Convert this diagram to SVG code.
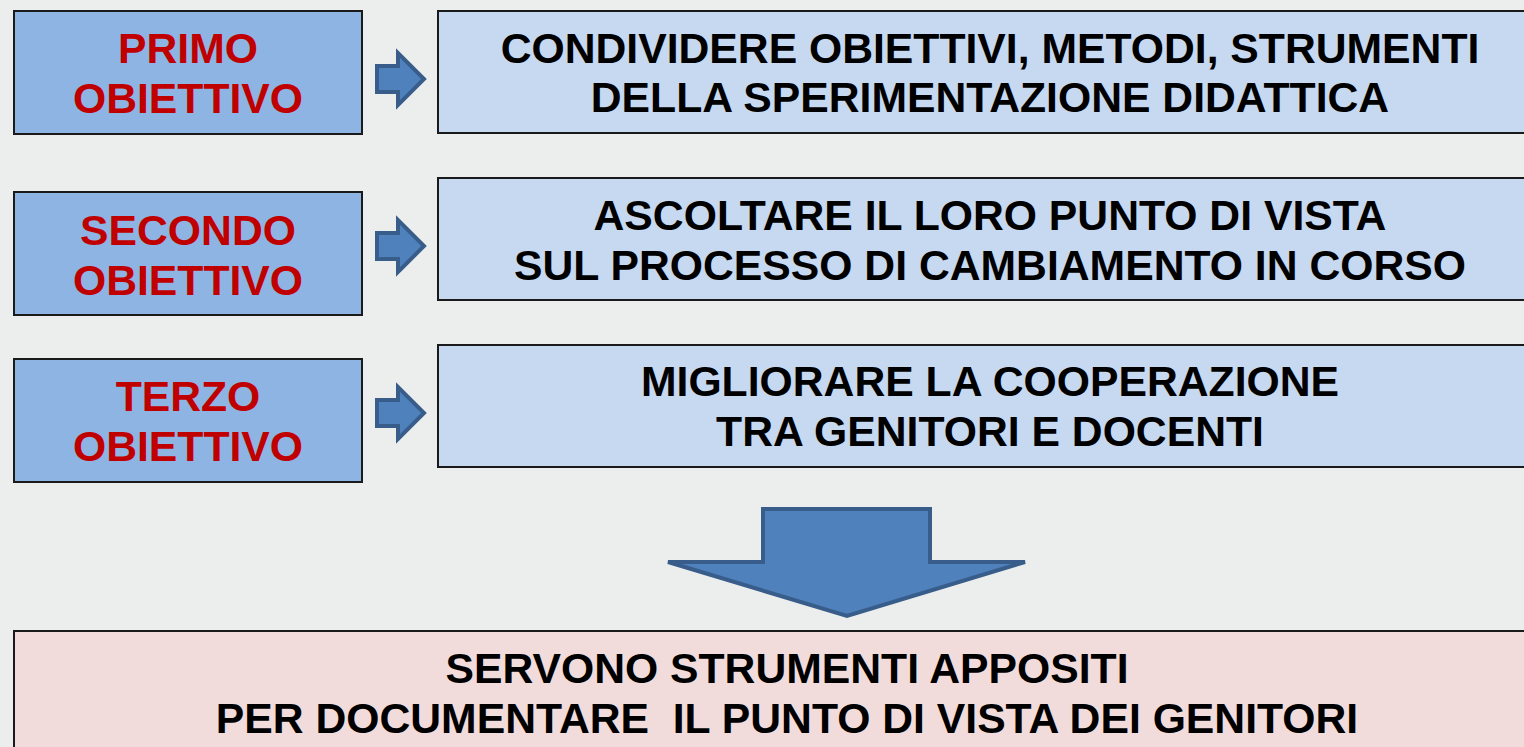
<svg xmlns="http://www.w3.org/2000/svg" width="1524" height="747" viewBox="0 0 1524 747">
<style>
.l{fill:#8EB4E3;stroke:#1a1a1a;stroke-width:2}
.r{fill:#C6D9F1;stroke:#1a1a1a;stroke-width:2}
.b{fill:#F2DCDB;stroke:#1a1a1a;stroke-width:2}
.a{fill:#4F81BD;stroke:#385D8A;stroke-width:4;stroke-linejoin:miter}
text{font-family:"Liberation Sans",Arial,sans-serif;font-weight:bold;font-size:42.7px;text-anchor:middle}
.red{fill:#C00000}
.blk{fill:#000}
</style>
<rect width="1524" height="747" fill="#ECEEED"/>
<g id="n1"><rect class="l" x="14" y="11" width="348" height="123"/><text class="red" x="188" y="63">PRIMO</text><text class="red" x="188" y="113">OBIETTIVO</text></g>
<g id="n2"><rect class="r" x="438" y="11" width="1100" height="122"/><text class="blk" x="990" y="63">CONDIVIDERE OBIETTIVI, METODI, STRUMENTI</text><text class="blk" x="990" y="112">DELLA SPERIMENTAZIONE DIDATTICA</text></g>
<g id="n3"><rect class="l" x="14" y="192" width="348" height="123"/><text class="red" x="188" y="245">SECONDO</text><text class="red" x="188" y="295">OBIETTIVO</text></g>
<g id="n4"><rect class="r" x="438" y="178" width="1100" height="122"/><text class="blk" x="990" y="230">ASCOLTARE IL LORO PUNTO DI VISTA</text><text class="blk" x="990" y="280">SUL PROCESSO DI CAMBIAMENTO IN CORSO</text></g>
<g id="n5"><rect class="l" x="14" y="359" width="348" height="123"/><text class="red" x="188" y="411">TERZO</text><text class="red" x="188" y="461">OBIETTIVO</text></g>
<g id="n6"><rect class="r" x="438" y="345" width="1100" height="122"/><text class="blk" x="990" y="396">MIGLIORARE LA COOPERAZIONE</text><text class="blk" x="990" y="446">TRA GENITORI E DOCENTI</text></g>
<g id="n7"><rect class="b" x="14" y="631" width="1530" height="130"/><text class="blk" x="787" y="683">SERVONO STRUMENTI APPOSITI</text><text class="blk" x="787" y="733" xml:space="preserve">PER DOCUMENTARE  IL PUNTO DI VISTA DEI GENITORI</text></g>
<g id="connectors">
<polygon class="a" points="377,66 398,66 398,53 424,79 398,105 398,92 377,92"/>
<polygon class="a" points="377,233 398,233 398,220 424,246 398,272 398,259 377,259"/>
<polygon class="a" points="377,400 398,400 398,387 424,413 398,439 398,426 377,426"/>
<polygon class="a" points="763,509 930,509 930,562 1025,562 847,616 668,562 763,562"/>
</g>
</svg>
